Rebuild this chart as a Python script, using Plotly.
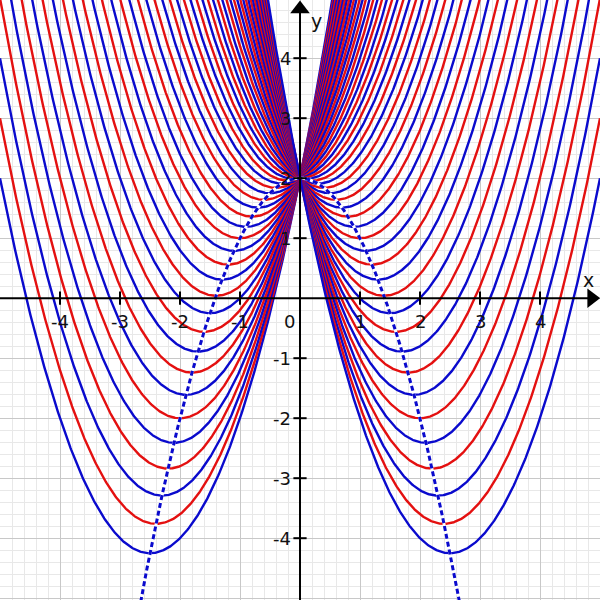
import numpy as np
import plotly.graph_objects as go

# vertex abscissa of each parabola y = x^2 - 2*a*x + 2  (vertex at (a, 2 - a^2))
a_values = [round(-2.5 + 0.1 * i, 1) for i in range(51)]
curve_colors = {"odd": "#0a0acd", "even": "#e41010"}

x_tick_vals = [-4, -3, -2, -1, 1, 2, 3, 4]
y_tick_vals = [-4, -3, -2, -1, 1, 2, 3, 4]

x_range = [-5, 5]
y_range = [-5.03, 4.97]

xs = np.linspace(-5, 5, 801)

fig = go.Figure()

for a in a_values:
    k = int(round(a * 10))
    col = curve_colors["odd"] if k % 2 else curve_colors["even"]
    ys = xs ** 2 - 2 * a * xs + 2
    ys = np.where(ys > 6, np.nan, ys)
    fig.add_trace(go.Scatter(x=xs, y=ys, mode="lines",
                             line=dict(color=col, width=2.4), hoverinfo="skip",
                             connectgaps=False))

# locus of vertices y = 2 - x^2
ys_loc = 2 - xs ** 2
ys_loc = np.where(ys_loc < -6, np.nan, ys_loc)
fig.add_trace(go.Scatter(x=xs, y=ys_loc, mode="lines",
                         line=dict(color="white", width=3), hoverinfo="skip"))
fig.add_trace(go.Scatter(x=xs, y=ys_loc, mode="lines",
                         line=dict(color="#0a0acd", width=3, dash="5px,3px"),
                         hoverinfo="skip"))

# axes
fig.add_shape(type="line", x0=-5, x1=4.9, y0=0, y1=0,
              line=dict(color="black", width=2))
fig.add_shape(type="line", x0=0, x1=0, y0=-5.1, y1=4.85,
              line=dict(color="black", width=2))
fig.add_trace(go.Scatter(x=[4.86], y=[0], mode="markers",
                         marker=dict(symbol="triangle-right", size=17, color="black"),
                         hoverinfo="skip"))
fig.add_trace(go.Scatter(x=[0], y=[4.82], mode="markers",
                         marker=dict(symbol="triangle-up", size=17, color="black"),
                         hoverinfo="skip"))

# tick marks
for t in x_tick_vals:
    fig.add_shape(type="line", x0=t, x1=t, y0=-0.11, y1=0.11,
                  line=dict(color="black", width=2))
    fig.add_annotation(x=t, y=-0.38, text=str(t), showarrow=False,
                       font=dict(size=18, color="#111"), xanchor="center",
                       yanchor="middle")
for t in y_tick_vals:
    fig.add_shape(type="line", x0=-0.11, x1=0.11, y0=t, y1=t,
                  line=dict(color="black", width=2))
    fig.add_annotation(x=-0.11, y=t, text=str(t), showarrow=False,
                       font=dict(size=18, color="#111"), xanchor="right",
                       yanchor="middle")

fig.add_annotation(x=-0.17, y=-0.38, text="0", showarrow=False,
                   font=dict(size=18, color="#111"))
fig.add_annotation(x=4.8, y=0.3, text="x", showarrow=False,
                   font=dict(size=19, color="#111"))
fig.add_annotation(x=0.27, y=4.62, text="y", showarrow=False,
                   font=dict(size=19, color="#111"))

axis_common = dict(
    showticklabels=False, zeroline=False, showline=False, ticks="",
    dtick=1, tick0=0, gridcolor="#c8c8c8", gridwidth=1,
    minor=dict(dtick=0.2, tick0=0, gridcolor="#e8e8e8", gridwidth=1, showgrid=True),
)
fig.update_xaxes(range=x_range, **axis_common)
fig.update_yaxes(range=y_range, **axis_common)

fig.update_layout(
    width=600, height=600,
    margin=dict(l=0, r=0, t=0, b=0),
    plot_bgcolor="white", paper_bgcolor="white",
    showlegend=False,
    font=dict(family="DejaVu Sans"),
)

fig.write_html("out.html", config={"displayModeBar": False},
               post_script="document.body.style.margin='0';")
